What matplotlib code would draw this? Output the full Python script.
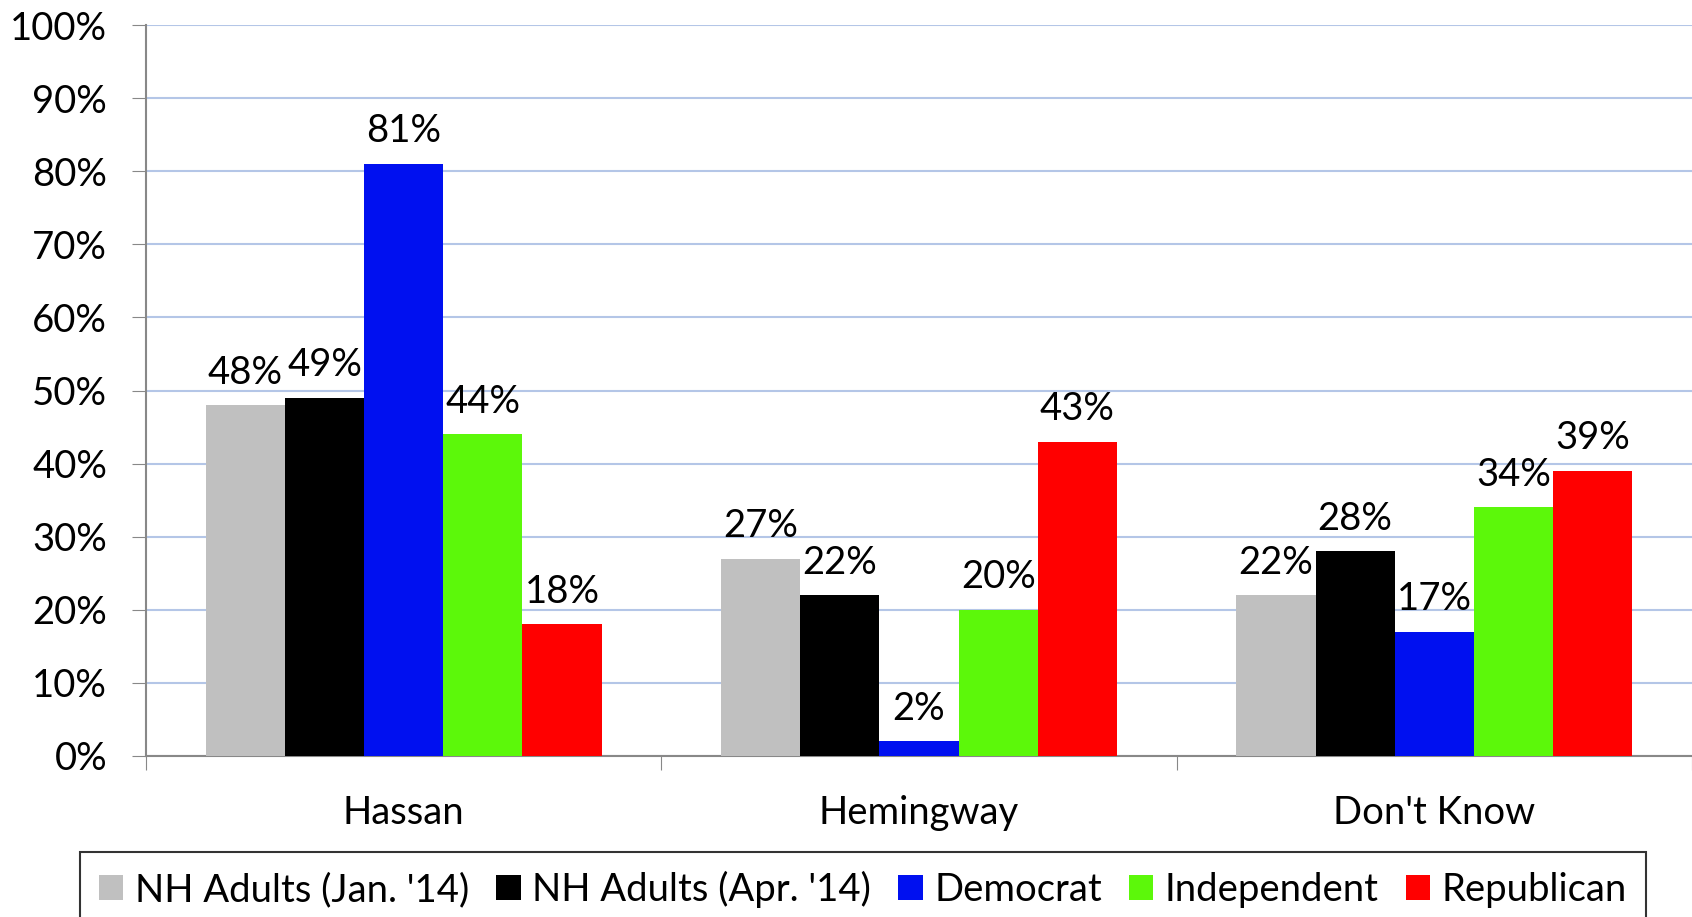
""" NH governor race: Hassan vs Hemingway by party """

import numpy as np
import matplotlib.pyplot as plt
from matplotlib.ticker import PercentFormatter

categories = ["Hassan", "Hemingway", "Don't Know"]
series = ["NH Adults (Jan. '14)", "NH Adults (Apr. '14)", "Democrat", "Independent", "Republican"]
jan14 = [48, 27, 22]
apr14 = [49, 22, 28]
dem = [81, 2, 17]
ind = [44, 20, 34]
rep = [18, 43, 39]
colors = ["#c0c0c0", "#000000", "#0010f0", "#5cf80a", "#ff0000"]

plt.rcParams["font.family"] = ["Lato", "DejaVu Sans"]

fig = plt.figure(figsize=(16.92, 9.17), dpi=100)
ax = fig.add_axes([0.0863, 0.1756, 0.9137, 0.7971])

x = np.arange(len(categories))
w = 0.1536
for i, (name, vals, c) in enumerate(zip(series, [jan14, apr14, dem, ind, rep], colors)):
    pos = x + (i - 2) * w
    ax.bar(pos, vals, width=w, color=c, label=name, zorder=3)
    for px, v in zip(pos, vals):
        ax.text(px, v + 2, f"{v}%", ha="center", va="bottom", fontsize=27.5, zorder=4)

ax.set_ylim(0, 100)
ax.set_xlim(-0.5, 2.5)
ax.set_yticks(np.arange(0, 101, 10))
ax.yaxis.set_major_formatter(PercentFormatter(100, decimals=0))
ax.grid(axis="y", color="#b4c6e7", linewidth=1.5, zorder=0)
ax.tick_params(axis="y", labelsize=27.5, length=10, color="#888888", pad=18)

ax.set_xticks([-0.5, 0.5, 1.5, 2.5])
ax.set_xticklabels([])
ax.set_xticks(x, minor=True)
ax.set_xticklabels(categories, minor=True)
ax.tick_params(axis="x", which="major", length=10, color="#888888")
ax.tick_params(axis="x", which="minor", length=0, labelsize=27.5, pad=28)

for s in ["top", "right"]:
    ax.spines[s].set_visible(False)
for s in ["left", "bottom"]:
    ax.spines[s].set_color("#888888")
    ax.spines[s].set_linewidth(1.5)

leg = fig.legend(loc="upper left", bbox_to_anchor=(0.047, 0.071), borderaxespad=0, ncol=5,
                 fontsize=27.5, frameon=True, fancybox=False, edgecolor="black",
                 handlelength=0.65, handleheight=0.65, handletextpad=0.3,
                 columnspacing=0.7, borderpad=0.5)
leg.get_frame().set_linewidth(1.5)

fig.savefig("out.png", dpi=100)
